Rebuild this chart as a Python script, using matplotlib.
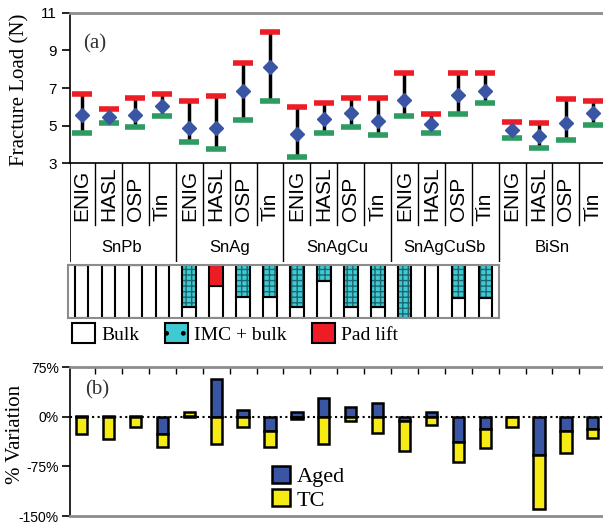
import numpy as np
import matplotlib
matplotlib.use("Agg")
import matplotlib.pyplot as plt
from matplotlib.patches import Patch

# fracture load per alloy / surface finish (N)
alloys = ['SnPb', 'SnAg', 'SnAgCu', 'SnAgCuSb', 'BiSn']
finishes = ['ENIG', 'HASL', 'OSP', 'Tin']
load_mean = [5.56, 5.44, 5.56, 6.04, 4.86, 4.86, 6.86, 8.10, 4.55, 5.35,
             5.65, 5.26, 6.36, 5.07, 6.63, 6.84, 4.77, 4.47, 5.16, 5.65]
load_max = [6.68, 5.88, 6.48, 6.68, 6.31, 6.57, 8.34, 10.0, 5.97, 6.18,
            6.48, 6.48, 7.78, 5.62, 7.78, 7.78, 5.21, 5.12, 6.40, 6.29]
load_min = [4.63, 5.12, 4.93, 5.51, 4.13, 3.74, 5.31, 6.31, 3.35, 4.63,
            4.93, 4.52, 5.51, 4.63, 5.60, 6.18, 4.33, 3.83, 4.24, 5.02]

# fracture mode (% of joints), first four alloys only
imc_pct = [0, 0, 0, 0, 79, 0, 61, 61, 79, 30, 79, 79, 100, 0, 62, 62]
padlift_pct = [0, 0, 0, 0, 0, 40, 0, 0, 0, 0, 0, 0, 0, 0, 0, 0]

# % variation after ageing and thermal cycling
aged = [2, 2, 2, -26, 2, 58, 11, -21, 7, 29, 15, 21, -6, 8, -38, -18, 0, -57, -21, -18]
tc = [-26, -33, -15, -20, 6, -41, -15, -25, -3, -41, -6, -24, -45, -12, -30, -29, -15, -83, -33, -14]

SERIF = 'Liberation Serif'
SANS = 'Liberation Sans'
BLUE = '#3A55A4'
RED = '#EE1D25'
GREEN = '#2E9C62'
TEAL = '#3FCAD3'
GRAY = '#8C8C8C'

W, H = 603, 523
fig = plt.figure(figsize=(W / 100, H / 100), dpi=100)


def box(l, t, r, b):
    return [l / W, 1 - b / H, (r - l) / W, (b - t) / H]


n = len(load_mean)
x = np.arange(n)
xlim = (-0.435, 19.38)

# ---- (a) fracture load ----
ax = fig.add_axes(box(70, 12.7, 603, 163.3))
ax.vlines(x, load_min, load_max, color='black', lw=2.5, zorder=2)
ax.plot(x, load_max, ls='none', marker='_', ms=14, mew=4, color=RED, zorder=3)
ax.plot(x, load_min, ls='none', marker='_', ms=14, mew=4, color=GREEN, zorder=3)
ax.plot(x, load_mean, ls='none', marker='D', ms=7.5, color=BLUE, zorder=4)
ax.set_xlim(*xlim)
ax.set_ylim(3, 11)
ax.set_yticks([3, 5, 7, 9, 11])
ax.set_xticks([])
ax.tick_params(axis='y', direction='out', length=6, width=1.2, labelsize=11)
for lab in ax.get_yticklabels():
    lab.set_fontfamily(SANS)
ax.spines['top'].set_color(GRAY)
ax.spines['top'].set_linewidth(2)
ax.spines['right'].set_visible(False)
ax.spines['left'].set_linewidth(1.2)
ax.spines['bottom'].set_linewidth(1.2)
ax.text(0.024, 0.79, '(a)', transform=ax.transAxes, fontsize=15,
        family=SERIF, color='#333333', va='center')
fig.text(20 / W, 1 - 90 / H, 'Fracture Load (N)', rotation=90, fontsize=15,
         family=SERIF, ha='center', va='center')

# ---- category labels under (a) ----
lab_ax = fig.add_axes(box(70, 163.3, 603, 262))
lab_ax.set_xlim(*xlim)
lab_ax.set_ylim(0, 1)
lab_ax.axis('off')
bounds = np.arange(n + 1) - 0.5
for i in range(n):
    lab_ax.text(x[i], 0.42, finishes[i % 4], rotation=90, ha='center',
                va='bottom', fontsize=15, family=SANS)
for bnd in bounds[1:-1]:
    if (bnd + 0.5) % 4 == 0:
        lab_ax.plot([bnd, bnd], [0, 1], color='black', lw=1)
    else:
        lab_ax.plot([bnd, bnd], [0.375, 1], color='black', lw=1)
lab_ax.plot([xlim[0], xlim[0]], [0, 1], color='black', lw=1.2)
for g, name in enumerate(alloys):
    lab_ax.text(4 * g + 1.5, 0.15, name, ha='center', va='center',
                fontsize=12, family=SANS)

# ---- fracture mode bars ----
m = len(imc_pct)
mx = np.arange(m)
imc = np.array(imc_pct)
pad = np.array(padlift_pct)
top = imc + pad
bulk = 100 - top
mode_ax = fig.add_axes(box(68, 265, 499, 318))
mode_ax.bar(mx, bulk, width=0.5, color='white', edgecolor='black', lw=1.5)
mode_ax.bar(mx, imc, bottom=bulk, width=0.5, color=TEAL, edgecolor='#1D6770',
            lw=0, hatch='+++')
mode_ax.bar(mx, pad, bottom=bulk, width=0.5, color=RED, lw=0)
mode_ax.bar(mx, top, bottom=bulk, width=0.5, fill=False, edgecolor='black', lw=1.5)
mode_ax.set_xlim(-0.5, m - 0.5)
mode_ax.set_ylim(0, 100)
mode_ax.set_xticks([])
mode_ax.set_yticks([])
for s in mode_ax.spines.values():
    s.set_color(GRAY)
    s.set_linewidth(1.5)

mode_handles = [Patch(facecolor='white', edgecolor='black', lw=1.5, label='Bulk'),
                Patch(facecolor=TEAL, edgecolor='black', lw=1.5, hatch='.', label='IMC + bulk'),
                Patch(facecolor=RED, edgecolor='black', lw=1.5, label='Pad lift')]
fig.legend(handles=mode_handles, loc='upper left', ncol=3,
           bbox_to_anchor=(72 / W, 1 - 323 / H), frameon=False,
           prop={'family': SERIF, 'size': 14}, handlelength=1.2,
           handleheight=1.2, handletextpad=0.3, columnspacing=1.3,
           borderpad=0, borderaxespad=0)

# ---- (b) % variation ----
bx = fig.add_axes(box(70, 367.3, 603, 516))
aged_a = np.array(aged)
tc_a = np.array(tc)
tc_bottom = np.where(np.sign(tc_a) == np.sign(aged_a), aged_a, 0)
bx.axhline(0, color='black', ls=':', lw=1.5, zorder=1)
bx.bar(x, aged_a, width=0.42, color=BLUE, edgecolor='black', lw=1.8, zorder=2, label='Aged')
bx.bar(x, tc_a, bottom=tc_bottom, width=0.42, color='#F6EB14', edgecolor='black',
       lw=1.8, zorder=2, label='TC')
bx.set_xlim(*xlim)
bx.set_ylim(-150, 75)
bx.set_yticks([75, 0, -75, -150])
bx.set_yticklabels(['75%', '0%', '-75%', '-150%'], family=SANS, fontsize=10)
bx.set_xticks(bounds[1:-1])
bx.tick_params(axis='x', top=True, bottom=False, labelbottom=False,
               direction='in', length=5, width=1)
bx.tick_params(axis='y', direction='out', length=6, width=1.2, pad=2)
bx.spines['right'].set_visible(False)
bx.spines['top'].set_color(GRAY)
bx.spines['top'].set_linewidth(2)
bx.spines['bottom'].set_color(GRAY)
bx.spines['bottom'].set_linewidth(2)
bx.spines['left'].set_linewidth(1.2)
bx.text(0.028, 0.85, '(b)', transform=bx.transAxes, fontsize=15,
        family=SERIF, color='#333333', va='center')
bx.legend(loc='upper left', bbox_to_anchor=(272 / W, 1 - 466 / H),
          bbox_transform=fig.transFigure, frameon=False,
          prop={'family': SERIF, 'size': 16}, handlelength=0.8,
          handleheight=0.8, handletextpad=0.3, labelspacing=0.1,
          borderpad=0, borderaxespad=0)
fig.text(16 / W, 1 - 434 / H, '% Variation', rotation=90, fontsize=15,
         family=SERIF, ha='center', va='center')

fig.savefig('out.png', dpi=100)
